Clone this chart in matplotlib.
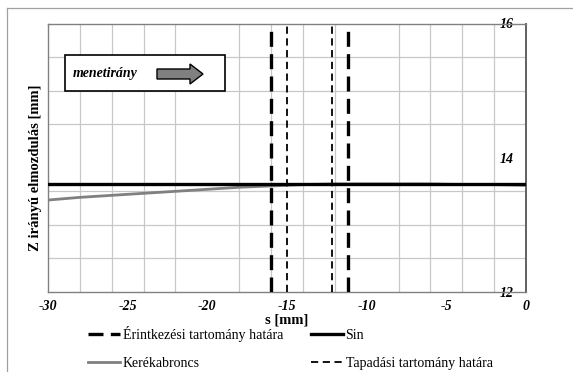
import matplotlib
matplotlib.use("Agg")
import matplotlib.pyplot as plt
from matplotlib.patches import FancyArrow, Rectangle
from matplotlib.lines import Line2D

# Data
s_sin = [-30, 0]
z_sin = [13.61, 13.61]
s_tyre = [-30, -28, -26, -24, -22, -20, -18, -16, -14, -12, -10, -8, -6, -4, -2, 0]
z_tyre = [13.37, 13.41, 13.44, 13.47, 13.50, 13.53, 13.56, 13.58, 13.60, 13.61, 13.61, 13.61, 13.61, 13.60, 13.60, 13.59]
contact_bounds = [-16.0, -11.2]
adhesion_bounds = [-15.0, -12.2]
x_ticks = [-30, -25, -20, -15, -10, -5, 0]
y_ticks = [12, 14, 16]

plt.rcParams['font.family'] = ['Liberation Serif', 'DejaVu Serif']

fig = plt.figure(figsize=(5.73, 3.72), dpi=100)
ax = fig.add_axes([48/573, 1-292/372, (526-48)/573, (292-23.5)/372])

# outer frame lines
fig.add_artist(Line2D([7/573, 1], [1-8/372, 1-8/372], color='#a0a0a0', lw=0.9, transform=fig.transFigure))
fig.add_artist(Line2D([7/573, 7/573], [0, 1-8/372], color='#a0a0a0', lw=0.9, transform=fig.transFigure))

ax.set_xlim(-30, 0)
ax.set_ylim(12, 16)

ax.set_xticks(x_ticks)
ax.set_xticks(list(range(-30, 1, 2)), minor=True)
ax.set_yticks(y_ticks)
ax.set_yticks([12 + 0.5*i for i in range(9)], minor=True)
ax.grid(False)
ax.grid(True, which='minor', color='#c8c8c8', lw=0.9)
ax.tick_params(which='both', length=0)
ax.set_xticklabels([str(v) for v in x_ticks], fontweight='bold', fontstyle='italic', fontsize=10)
ax.yaxis.tick_right()
ax.set_yticklabels([str(v) for v in y_ticks], fontweight='bold', fontstyle='italic', fontsize=10)
ax.tick_params(axis='y', pad=-9)
for lab in ax.get_yticklabels():
    lab.set_horizontalalignment('right')
ax.tick_params(axis='x', pad=6)

for sp in ax.spines.values():
    sp.set_color('#808080')
    sp.set_linewidth(1.0)
ax.spines['right'].set_color('#606060')
ax.spines['right'].set_linewidth(1.4)

h_tyre, = ax.plot(s_tyre, z_tyre, color='#808080', lw=2.0, zorder=3)
h_sin, = ax.plot(s_sin, z_sin, color='black', lw=2.4, zorder=4)
h_c = None
for xv in contact_bounds:
    h_c = ax.axvline(xv, color='black', lw=2.4, dashes=(4.5, 2.2), zorder=5)
h_a = None
for xv in adhesion_bounds:
    h_a = ax.axvline(xv, color='black', lw=1.3, dashes=(4.0, 2.5), zorder=5)

ax.set_xlabel('s [mm]', fontweight='bold', fontsize=10.5, labelpad=0)
ax.set_ylabel('Z irányú elmozdulás [mm]', fontweight='bold', fontsize=10.5)
ax.yaxis.set_label_coords(-6/478, (292-168)/268.5)

# direction box
box = Rectangle((65/573, 1-91/372), (225-65)/573, (91-55.5)/372, transform=fig.transFigure,
                facecolor='white', edgecolor='black', lw=1.2, zorder=10)
fig.add_artist(box)
fig.text(73/573, 1-74/372, 'menetirány', fontweight='bold', fontstyle='italic', fontsize=10,
         va='center', ha='left', zorder=11)
arr = FancyArrow(157/573, 1-74/372, (203-157)/573, 0, width=10/372, head_width=20/372,
                 head_length=13/573, length_includes_head=True, transform=fig.transFigure,
                 facecolor='#808080', edgecolor='black', lw=1.0, zorder=11)
fig.add_artist(arr)

leg = fig.legend([h_c, h_tyre, h_sin, h_a],
                 ['Érintkezési tartomány határa', 'Kerékabroncs', 'Sin', 'Tapadási tartomány határa'],
                 ncol=2, loc='upper left', bbox_to_anchor=(88/573, 1-326/372), frameon=False,
                 fontsize=10, handlelength=2.3, handletextpad=0.2, columnspacing=2.0,
                 labelspacing=1.05, borderaxespad=0, borderpad=0)

fig.savefig('out.png', dpi=100)
